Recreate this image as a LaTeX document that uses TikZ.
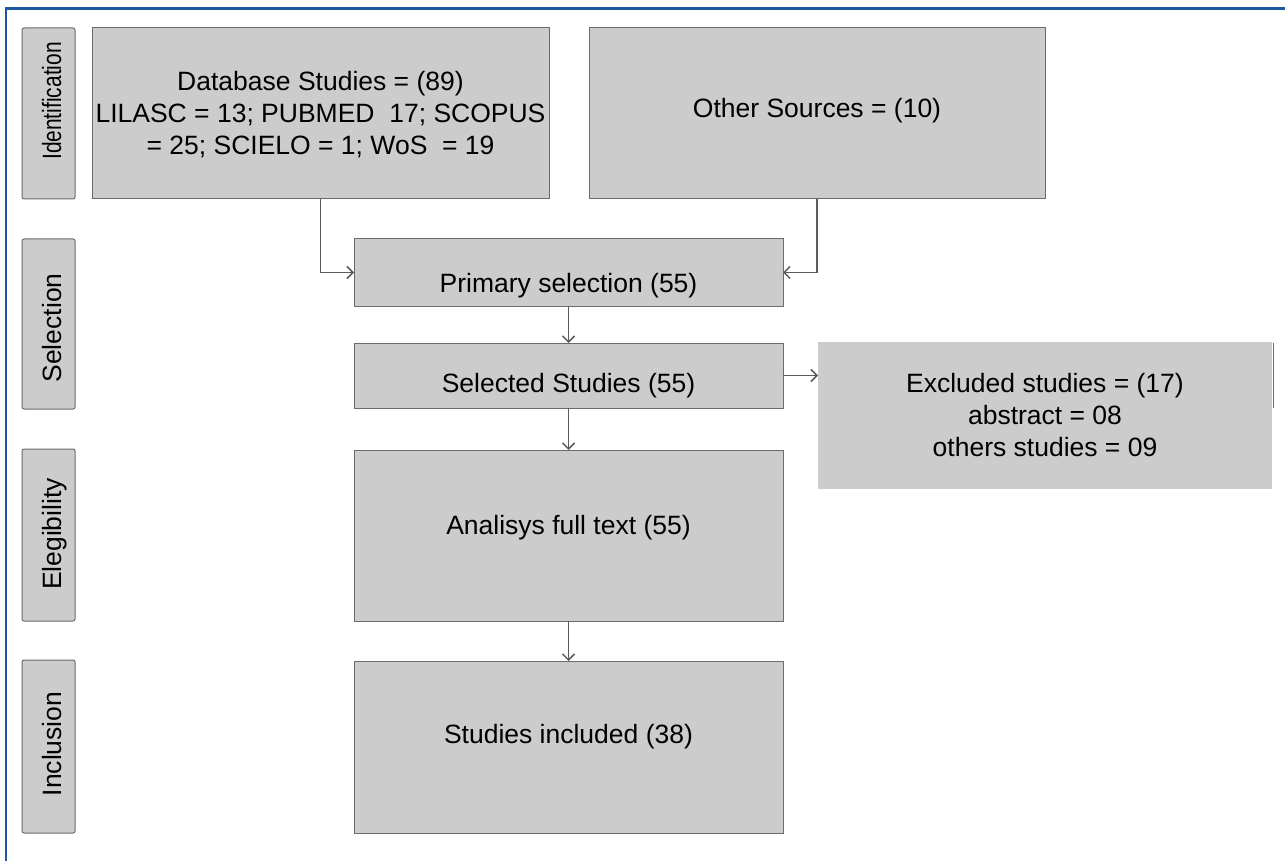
\documentclass[tikz,border=0pt]{standalone}
\usepackage{fontspec}
\usepackage{graphicx}
\setmainfont{Liberation Sans}
\usetikzlibrary{arrows.meta}
\definecolor{boxfill}{HTML}{CCCCCC}
\definecolor{boxline}{HTML}{6B6B6B}
\definecolor{arrowc}{HTML}{5C5C5C}
\definecolor{frameblue}{HTML}{1B5AA0}
\tikzset{
  box/.style={rectangle, fill=boxfill, draw=boxline, line width=1pt, inner sep=0pt, outer sep=0pt},
  nobox/.style={rectangle, fill=boxfill, inner sep=0pt, outer sep=0pt},
  phase/.style={rectangle, rounded corners=2pt, fill=boxfill, draw=boxline, line width=1pt, inner sep=0pt, outer sep=0pt, minimum width=53pt},
  txt/.style={anchor=base, inner sep=0pt, font=\fontsize{26.5}{32}\selectfont, align=center},
  ptxt/.style={anchor=base, rotate=90, inner sep=0pt, font=\fontsize{26.5}{32}\selectfont},
  flow/.style={draw=arrowc, line width=1.8pt, -{Straight Barb[length=6pt,width=12pt,line width=1.5pt]}}
}
\begin{document}
\begin{tikzpicture}[x=1pt,y=-1pt]
\useasboundingbox (0,0) rectangle (1285,861);
% frame
\draw[frameblue, line width=2.6pt] (6,870) -- (6,8.3) -- (1295,8.3);
% phase labels
\node[phase, minimum height=171pt] (pid) at (48.5,113.5) {};
\node[phase, minimum height=170pt] (psel) at (48.5,324) {};
\node[phase, minimum height=172pt] (pel) at (48.5,535) {};
\node[phase, minimum height=173pt] (pin) at (48.5,746.5) {};
\node[ptxt] (tid) at (61,101) {\scalebox{0.79}[1]{Identification}};
\node[ptxt] (tsel) at (61,328) {Selection};
\node[ptxt] (tel) at (61,534) {Elegibility};
\node[ptxt] (tin) at (61,744) {Inclusion};
% boxes
\node[box, minimum width=457pt, minimum height=171pt] (db) at (320.5,113.5) {};
\node[box, minimum width=456pt, minimum height=171pt] (oth) at (817,113.5) {};
\node[box, minimum width=429pt, minimum height=67pt] (prim) at (568.5,272.5) {};
\node[box, minimum width=429pt, minimum height=65pt] (selst) at (568.5,375.5) {};
\node[nobox, minimum width=454pt, minimum height=147pt] (excl) at (1045,415.5) {};
\node[box, minimum width=429pt, minimum height=171pt] (anal) at (568.5,535.5) {};
\node[box, minimum width=429pt, minimum height=172pt] (incl) at (568.5,747) {};
\draw[boxline, line width=1pt] (1273.5,343) -- (1273.5,408);
% texts (base anchor = baseline of last line)
\node[txt] (tdb) at (320.5,154.5) {Database Studies = (89)\\LILASC = 13; PUBMED\ \ 17; SCOPUS\\= 25; SCIELO = 1; WoS\ \ = 19};
\node[txt] (toth) at (817,118) {Other Sources = (10)};
\node[txt] (tprim) at (568.5,292.7) {Primary selection (55)};
\node[txt] (tselst) at (568.5,392.7) {Selected Studies (55)};
\node[txt] (texcl) at (1045,456.7) {Excluded studies = (17)\\abstract = 08\\others studies = 09};
\node[txt] (tanal) at (568.5,534) {Analisys full text (55)};
\node[txt] (tincl) at (568.5,743.3) {Studies included (38)};
% connectors
\draw[flow] (db.south) |- (prim.west);
\draw[flow] (oth.south) |- (prim.east);
\draw[flow] (prim.south) -- (selst.north);
\draw[flow] (selst.east) -- (selst.east -| excl.west);
\draw[flow] (selst.south) -- (anal.north);
\draw[flow] (anal.south) -- (incl.north);
\end{tikzpicture}
\end{document}
